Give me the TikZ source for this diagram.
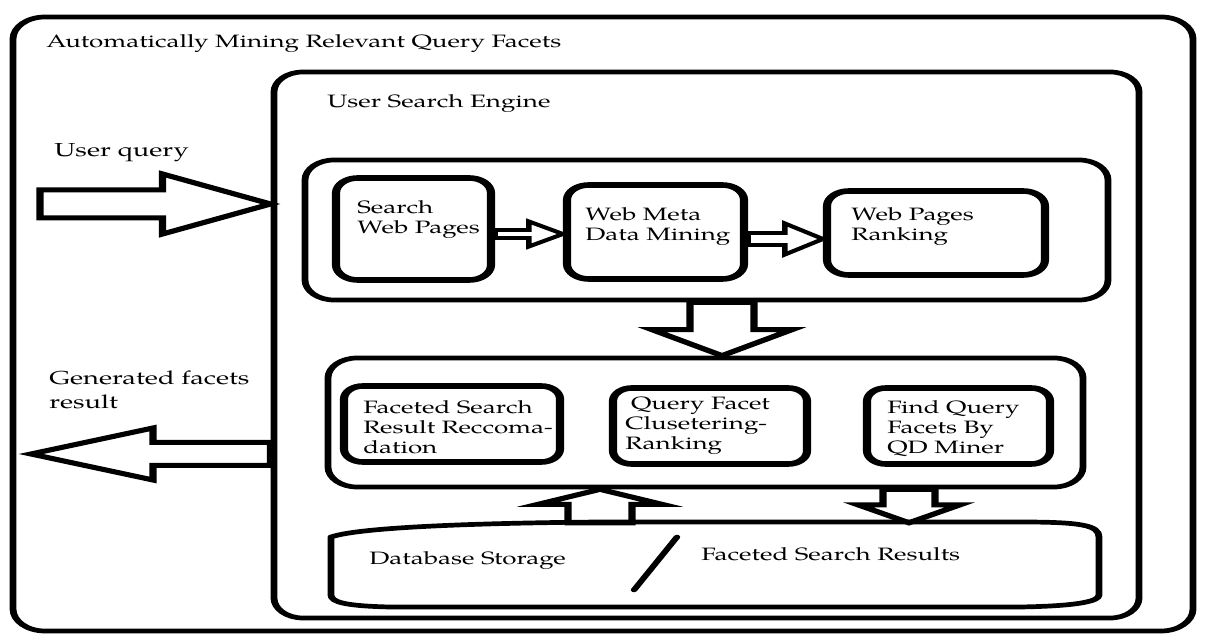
\documentclass[tikz,border=0pt]{standalone}
\usepackage{fontspec}
\setmainfont{texgyrepagella-regular.otf}
\usetikzlibrary{calc}

\tikzset{
  frame/.style={draw, line width=4.7pt, rounded corners=#1, inner sep=0pt},
  cell/.style={draw, line width=5.6pt, rounded corners=#1, inner sep=0pt},
  lbl/.style={inner sep=0pt, anchor=base west, font=\fontsize{17.9}{20}\selectfont},
  biglbl/.style={inner sep=0pt, font=\fontsize{18.8}{24}\selectfont, align=left},
  boxtxt/.style={inner sep=0pt, anchor=north west, align=left, font=\fontsize{17.9}{20}\selectfont},
  blockline/.style={draw, line width=5pt, line join=miter},
  % horizontal block arrow: shaft half width, head half width, head length
  harrow/.style n args={3}{to path={
    let \p1=(\tikztostart), \p2=(\tikztotarget), \n1={sign(\x2-\x1)} in
    (\x1,\y1+#1) -- (\x2-\n1*#3,\y1+#1) -- (\x2-\n1*#3,\y1+#2) -- (\x2,\y1)
    -- (\x2-\n1*#3,\y1-#2) -- (\x2-\n1*#3,\y1-#1) -- (\x1,\y1-#1) -- cycle}},
  % vertical block arrow: shaft half width, head half width, head length
  varrow/.style n args={3}{to path={
    let \p1=(\tikztostart), \p2=(\tikztotarget), \n1={sign(\y2-\y1)} in
    (\x1+#1,\y1) -- (\x1+#1,\y2-\n1*#3) -- (\x1+#2,\y2-\n1*#3) -- (\x1,\y2)
    -- (\x1-#2,\y2-\n1*#3) -- (\x1-#1,\y2-\n1*#3) -- (\x1-#1,\y1) -- cycle}},
}

\begin{document}
\begin{tikzpicture}[x=1pt, y=1pt]
\fill[white] (0,0) rectangle (1205,637);
\useasboundingbox (0,0) rectangle (1205,637);

% the whole drawing is widened by 1.45; x is given in final units
\begin{scope}[transform canvas={xscale=1.45}, x=0.689655pt, y=1pt]

% outer frames
\node[frame=22pt, minimum width=813.8pt, minimum height=614pt] (outer) at (603,313) {};
\node[lbl] (title) at (46,589) {Automatically Mining Relevant Query Facets};

\node[frame=20pt, minimum width=596.6pt, minimum height=546pt] (use) at (706.5,292) {};
\node[lbl] (usetitle) at (327,529) {User Search Engine};

% first row: search and ranking
\node[frame=20pt, minimum width=553.8pt, minimum height=140pt] (row1) at (706.5,407) {};
\node[cell=15pt, minimum width=106.9pt, minimum height=102pt] (swp) at (413.5,408) {};
\node[cell=15pt, minimum width=122.1pt, minimum height=94pt] (wmd) at (655.5,405) {};
\node[cell=15pt, minimum width=150.3pt, minimum height=84pt] (wpr) at (936,404) {};
\node[boxtxt] (swpt) at (357,437) {Search\\Web Pages};
\node[boxtxt] (wmdt) at (585,430) {Web Meta\\Data Mining};
\node[boxtxt] (wprt) at (851,430) {Web Pages\\Ranking};

% second row: facets
\node[frame=20pt, minimum width=520.7pt, minimum height=129pt] (row2) at (705.5,214.5) {};
\node[cell=13pt, minimum width=149pt, minimum height=76pt] (fsr) at (452,213) {};
\node[cell=13pt, minimum width=133.8pt, minimum height=76pt] (qfc) at (710,211) {};
\node[cell=13pt, minimum width=126.2pt, minimum height=76pt] (fqf) at (958.5,211) {};
\node[boxtxt] (fsrt) at (363,237) {Faceted Search\\Result Reccoma-\\dation};
\node[boxtxt] (qfct) at (625,240) {\hspace{4pt}Query Facet\\Clusetering-\\Ranking};
\node[boxtxt] (fqft) at (887,237) {Find Query\\Facets By\\QD Miner};

% storage
\node[minimum width=529.7pt, minimum height=83pt, inner sep=0pt] (db) at (715,72.5) {};
\draw[line width=4.7pt, line join=round]
  (331,100) .. controls (360,110) and (480,114) .. (600,115) -- (1020,115)
  .. controls (1080,115) and (1099,112) .. (1099,100) -- (1099,42)
  .. controls (1099,36) and (1080,31) .. (1020,30) -- (390,30)
  .. controls (345,31) and (331,35) .. (331,42) -- cycle;
\draw[line width=4.5pt, line cap=round] (677,100) -- (634,47);
\node[lbl] (dbs) at (369,72) {Database Storage};
\node[lbl] (fsres) at (701,76) {Faceted Search Results};

% side labels
\node[biglbl, anchor=base west] (uq) at (54,480) {User query};
\node[biglbl, anchor=north west] (gf) at (49,266) {Generated facets\\result};

% block arrows
\coordinate (uqs) at (40,433);
\coordinate (gft) at (31,183);
\coordinate (a1y) at (520,403);
\coordinate (a2y) at (790,398);
\coordinate (d1x) at (722,300);
\coordinate (u1x) at (600,130);
\coordinate (d2x) at (909,130);

\draw[blockline] (uqs) to[harrow={14pt}{30pt}{74.5pt}] (uqs -| use.west);
\draw[blockline] (gft -| use.west) to[harrow={11.5pt}{26pt}{84.1pt}] (gft);
\draw[blockline, line width=3.8pt] (swp.east |- a1y) to[harrow={4pt}{12.5pt}{23.4pt}] (wmd.west |- a1y);
\draw[blockline, line width=3.8pt] (wmd.east |- a2y) to[harrow={6pt}{15.5pt}{26.2pt}] (wpr.west |- a2y);
\draw[blockline] (d1x |- row1.south) to[varrow={22.1pt}{48.3pt}{26pt}] (d1x |- row2.north);
\draw[blockline] (u1x |- db.north) to[varrow={22.1pt}{42.8pt}{15pt}] (u1x |- row2.south);
\draw[blockline] (d2x |- row2.south) to[varrow={17.9pt}{35.2pt}{18pt}] (d2x |- db.north);
\end{scope}
\end{tikzpicture}
\end{document}
